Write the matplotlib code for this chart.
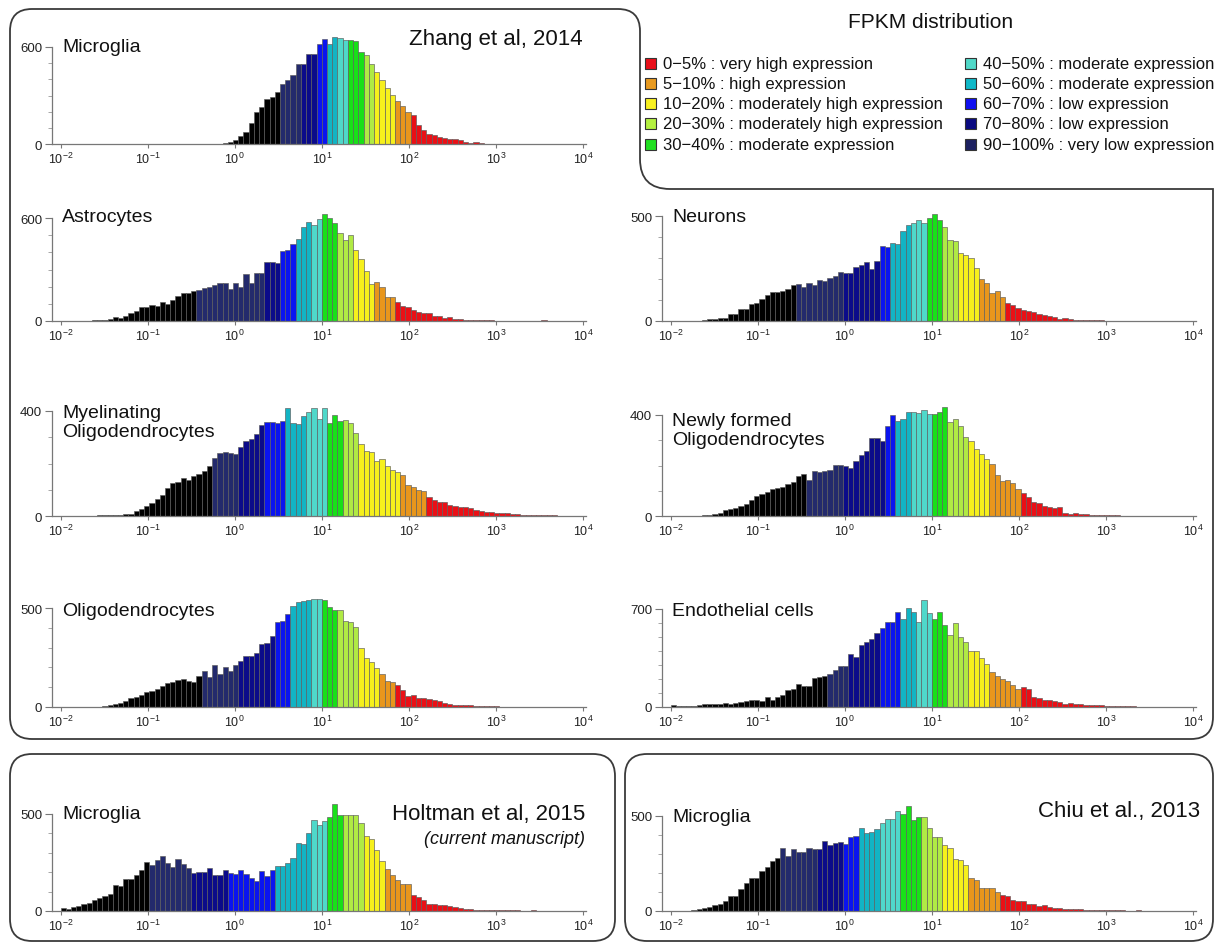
import numpy as np
import matplotlib
matplotlib.use('Agg')
import matplotlib.pyplot as plt
from matplotlib.patches import FancyBboxPatch, PathPatch, Rectangle
from matplotlib.path import Path
from matplotlib.ticker import FixedLocator, NullLocator

plt.rcParams['font.family'] = ['Liberation Sans', 'DejaVu Sans']
plt.rcParams['mathtext.fontset'] = 'custom'
plt.rcParams['mathtext.rm'] = 'Liberation Sans'
plt.rcParams['mathtext.it'] = 'Liberation Sans:italic'

W, H = 1215, 945

# 100 log-spaced FPKM bins, 1e-2 .. 1e4
bin_edges = np.logspace(-2, 4, 101)

# colour groups, low expression (left) -> high expression (right)
group_colors = ['#000000', '#232a6c', '#0b0b8a', '#0a14f0', '#12b4c4', '#4fd8ca',
                '#18e018', '#b0ea44', '#f6f01c', '#e8961c', '#ea1016']

# gene counts per bin; *_groups = first bin of each colour after black
zhang_microglia = [1, 1, 1, 1, 1, 1, 1, 1, 1, 1, 1, 1, 1, 1, 1, 1, 1, 1, 1, 1,
                   1, 1, 1, 1, 1, 1, 2, 1, 2, 2, 3, 5, 14, 25, 49, 76, 131, 199, 230, 277,
                   292, 322, 374, 394, 425, 493, 493, 558, 558, 620, 651, 620, 661, 657, 645, 645, 636, 569, 548, 497,
                   446, 394, 345, 304, 269, 238, 199, 177, 117, 86, 60, 55, 45, 35, 29, 29, 23, 14, 8, 14,
                   4, 3, 2, 2, 2, 1, 1, 1, 1, 1, 1, 1, 1, 1, 1, 1, 1, 1, 1, 1]
zhang_microglia_groups = [42, 46, 49, 51, 53, 55, 58, 60, 64, 67]

astrocytes = [1, 1, 1, 1, 2, 2, 3, 3, 5, 12, 21, 15, 27, 45, 58, 79, 83, 93, 89, 112,
              97, 122, 145, 161, 161, 174, 180, 190, 199, 209, 219, 219, 186, 219, 199, 271, 223, 281, 281, 341,
              341, 335, 406, 412, 447, 480, 548, 577, 561, 596, 625, 600, 573, 515, 470, 503, 412, 364, 290, 213,
              228, 199, 141, 141, 108, 89, 79, 64, 50, 45, 45, 27, 27, 17, 21, 12, 10, 7, 6, 5,
              4, 3, 3, 2, 2, 2, 2, 1, 1, 1, 1, 1, 3, 1, 1, 1, 1, 1, 1, 1]
astrocytes_groups = [26, 39, 42, 45, 48, 50, 53, 56, 60, 64]

neurons = [1, 1, 1, 1, 2, 2, 5, 8, 10, 12, 15, 32, 32, 58, 58, 82, 87, 105, 122, 138,
           138, 143, 154, 170, 175, 162, 181, 170, 197, 190, 206, 214, 233, 229, 229, 257, 265, 281, 248, 286,
           356, 352, 371, 365, 427, 456, 468, 479, 468, 492, 508, 479, 448, 384, 379, 325, 313, 302, 254, 202,
           181, 135, 141, 114, 87, 75, 63, 54, 46, 43, 35, 30, 22, 19, 10, 14, 8, 7, 6, 5,
           4, 3, 3, 2, 2, 2, 1, 1, 1, 1, 1, 1, 2, 1, 1, 1, 1, 1, 1, 1]
neurons_groups = [24, 33, 40, 42, 46, 49, 52, 55, 59, 64]

myelinating = [1, 1, 1, 1, 1, 1, 1, 2, 2, 3, 4, 5, 8, 8, 20, 26, 38, 51, 66, 79,
               108, 125, 129, 145, 138, 154, 160, 170, 191, 221, 239, 243, 240, 236, 262, 284, 293, 312, 347, 360,
               360, 356, 362, 410, 356, 352, 381, 398, 410, 369, 410, 356, 385, 362, 365, 356, 318, 274, 249, 243,
               211, 218, 192, 174, 167, 155, 117, 111, 98, 96, 73, 60, 54, 54, 42, 38, 35, 33, 29, 23,
               20, 16, 16, 13, 13, 10, 8, 6, 5, 5, 4, 3, 2, 2, 2, 1, 1, 1, 1, 1]
myelinating_groups = [29, 34, 39, 43, 47, 51, 54, 57, 65, 70]

newly_formed = [1, 1, 1, 1, 1, 1, 2, 4, 8, 13, 24, 27, 31, 40, 48, 64, 80, 87, 97, 107,
                111, 115, 128, 135, 160, 168, 141, 177, 173, 177, 184, 201, 201, 197, 191, 217, 240, 257, 307, 307,
                297, 357, 401, 375, 384, 413, 413, 408, 420, 404, 404, 413, 431, 372, 384, 355, 311, 297, 264, 247,
                227, 204, 164, 137, 144, 131, 107, 91, 75, 57, 53, 40, 35, 31, 35, 13, 8, 11, 8, 8,
                5, 5, 4, 4, 2, 2, 1, 1, 1, 1, 1, 1, 1, 1, 1, 1, 1, 1, 1, 1]
newly_formed_groups = [26, 33, 41, 43, 46, 50, 53, 57, 61, 67]

oligodendrocytes = [1, 1, 1, 1, 1, 1, 2, 2, 3, 8, 14, 20, 29, 43, 51, 60, 77, 80, 89, 107,
                    119, 128, 136, 142, 131, 125, 159, 183, 150, 210, 167, 200, 183, 210, 230, 256, 256, 273, 319, 324,
                    358, 427, 435, 469, 512, 529, 534, 538, 546, 546, 540, 503, 490, 492, 435, 427, 404, 299, 247, 227,
                    196, 165, 131, 128, 111, 85, 56, 63, 43, 46, 39, 34, 29, 22, 17, 12, 9, 9, 9, 5,
                    4, 3, 3, 4, 2, 2, 2, 1, 1, 1, 1, 1, 1, 1, 1, 1, 1, 1, 1, 1]
oligodendrocytes_groups = [27, 34, 41, 44, 48, 50, 53, 57, 61, 64]

endothelial = [12, 7, 7, 7, 7, 14, 19, 19, 19, 24, 31, 24, 29, 36, 41, 53, 53, 41, 72, 48,
               72, 88, 120, 131, 167, 151, 151, 208, 215, 220, 239, 263, 294, 294, 382, 359, 442, 466, 485, 526,
               567, 605, 605, 677, 629, 705, 677, 605, 765, 669, 629, 677, 586, 514, 598, 502, 466, 399, 399, 347,
               304, 251, 222, 203, 184, 155, 127, 143, 131, 72, 67, 48, 48, 43, 36, 24, 31, 24, 24, 17,
               17, 12, 12, 10, 7, 7, 5, 5, 5, 3, 3, 3, 2, 2, 2, 1, 1, 1, 1, 1]
endothelial_groups = [30, 34, 40, 44, 47, 50, 53, 57, 61, 67]

holtman_microglia = [17, 9, 21, 28, 34, 41, 55, 69, 76, 90, 133, 129, 167, 167, 184, 210, 253, 236, 262, 283,
                     248, 228, 266, 241, 224, 197, 202, 202, 224, 184, 184, 210, 197, 193, 210, 190, 172, 155, 207, 179,
                     210, 231, 231, 245, 271, 352, 345, 400, 469, 443, 466, 486, 552, 495, 495, 495, 495, 452, 386, 369,
                     317, 259, 219, 184, 160, 141, 141, 81, 72, 55, 38, 38, 33, 29, 24, 21, 17, 12, 10, 7,
                     7, 6, 5, 6, 4, 3, 3, 3, 2, 2, 3, 2, 1, 1, 1, 1, 1, 1, 1, 1]
holtman_microglia_groups = [17, 25, 32, 41, 48, 51, 54, 58, 62, 67]

chiu_microglia = [1, 1, 1, 2, 5, 9, 14, 20, 29, 38, 51, 77, 80, 114, 145, 176, 176, 208, 234, 261,
                  278, 333, 290, 324, 311, 311, 329, 324, 324, 367, 346, 358, 363, 353, 392, 396, 438, 409, 418, 432,
                  461, 483, 483, 524, 512, 551, 478, 495, 495, 435, 392, 392, 346, 329, 273, 268, 244, 176, 165, 119,
                  119, 119, 100, 85, 80, 60, 55, 51, 38, 39, 26, 29, 20, 17, 17, 12, 12, 9, 9, 7,
                  6, 5, 5, 4, 3, 4, 3, 2, 2, 3, 2, 2, 1, 1, 1, 1, 1, 1, 1, 1]
chiu_microglia_groups = [21, 28, 33, 36, 40, 44, 48, 52, 57, 63]

legend_labels = ['0\u22125% : very high expression', '5\u221210% : high expression',
                 '10\u221220% : moderately high expression', '20\u221230% : moderately high expression',
                 '30\u221240% : moderate expression', '40\u221250% : moderate expression',
                 '50\u221260% : moderate expression', '60\u221270% : low expression',
                 '70\u221280% : low expression', '90\u2212100% : very low expression']
legend_colors = ['#e8101a', '#e89a20', '#f8f020', '#b4f040', '#20e020',
                 '#50d8c8', '#10b8c8', '#1010f0', '#0a0a80', '#1c2060']


def fx(x):
    return x / W


def fy(y):
    return 1 - y / H


fig = plt.figure(figsize=(W / 100, H / 100), dpi=100)

# frames, drawn in pixel coordinates
frame = fig.add_axes([0, 0, 1, 1], zorder=-1)
frame.set_xlim(0, W)
frame.set_ylim(H, 0)
frame.axis('off')
r = 22
M, L, C = Path.MOVETO, Path.LINETO, Path.CURVE3
verts = [(10, 740 - r), (10, 10 + r), (10, 10), (10 + r, 10), (640 - r, 10), (640, 10), (640, 10 + r),
         (640, 160), (640, 190), (670, 190), (1213, 190), (1213, 740 - r), (1213, 740), (1213 - r, 740),
         (10 + r, 740), (10, 740), (10, 740 - r)]
codes = [M, L, C, C, L, C, C, L, C, C, L, L, C, C, L, C, C]
frame.add_patch(PathPatch(Path(verts, codes), fill=False, ec='#3a3a3a', lw=1.3))
for x0, x1 in [(10, 615), (625, 1213)]:
    frame.add_patch(FancyBboxPatch((x0, 755), x1 - x0, 187, boxstyle='round,pad=0,rounding_size=22',
                                   fill=False, ec='#3a3a3a', lw=1.3))

# panels: data, groups, side, baseline px, top-tick px, top tick value
panels = [
    (zhang_microglia, zhang_microglia_groups, 'L', 145, 48, 600),
    (astrocytes, astrocytes_groups, 'L', 322, 219, 600),
    (neurons, neurons_groups, 'R', 322, 217, 500),
    (myelinating, myelinating_groups, 'L', 517, 412, 400),
    (newly_formed, newly_formed_groups, 'R', 517, 416, 400),
    (oligodendrocytes, oligodendrocytes_groups, 'L', 708, 609, 500),
    (endothelial, endothelial_groups, 'R', 708, 610, 700),
    (holtman_microglia, holtman_microglia_groups, 'L', 912, 815, 500),
    (chiu_microglia, chiu_microglia_groups, 'R', 912, 817, 500),
]
decade = 87.1
x_lo, x_hi = -2.1, 4.03
for heights, groups, side, base, top_px, top_val in panels:
    x_start = 60.5 if side == 'L' else 670.5
    left = x_start + (x_lo + 2) * decade
    right = x_start + (x_hi + 2) * decade
    k = 1.3
    h_px = (base - top_px) * k
    ax = fig.add_axes([fx(left), fy(base), (right - left) / W, h_px / H])
    ax.patch.set_alpha(0)
    cols = [group_colors[np.searchsorted(groups, i, side='right')] for i in range(len(heights))]
    ax.bar(bin_edges[:-1], heights, width=np.diff(bin_edges), align='edge',
           color=cols, edgecolor='#5c5c5c', linewidth=0.45)
    ax.set_xscale('log')
    ax.set_xlim(10 ** x_lo, 10 ** x_hi)
    ax.set_ylim(0, top_val * k)
    for s in ['top', 'right']:
        ax.spines[s].set_visible(False)
    for s in ['left', 'bottom']:
        ax.spines[s].set_color('#777777')
        ax.spines[s].set_linewidth(0.9)
    ax.spines['left'].set_bounds(0, top_val)
    ax.xaxis.set_major_locator(FixedLocator(10.0 ** np.arange(-2, 5)))
    ax.xaxis.set_minor_locator(NullLocator())
    ax.yaxis.set_major_locator(FixedLocator([0, top_val]))
    ax.yaxis.set_minor_locator(FixedLocator(list(range(100, top_val, 100))))
    ax.tick_params(axis='x', which='major', length=3, width=0.8, color='#777777',
                   labelsize=9, pad=2, labelcolor='#222222')
    ax.tick_params(axis='y', which='major', length=5, width=0.8, color='#777777',
                   labelsize=9.5, pad=2, labelcolor='#222222')
    ax.tick_params(axis='y', which='minor', length=3, width=0.6, color='#999999')

# panel titles
titles = [('Microglia', 62, 48), ('Astrocytes', 62, 218), ('Neurons', 672, 218),
          ('Myelinating\nOligodendrocytes', 62, 423), ('Newly formed\nOligodendrocytes', 672, 431),
          ('Oligodendrocytes', 62, 612), ('Endothelial cells', 672, 611),
          ('Microglia', 62, 815), ('Microglia', 672, 818)]
for t, x, y in titles:
    fig.text(fx(x), fy(y), t, fontsize=14, ha='left', va='center', linespacing=1.15, color='#111111')

fig.text(fx(583), fy(40), 'Zhang et al, 2014', fontsize=16, ha='right', va='center', color='#111111')
fig.text(fx(585), fy(815), 'Holtman et al, 2015', fontsize=16, ha='right', va='center', color='#111111')
fig.text(fx(585), fy(840), '(current manuscript)', fontsize=13, style='italic', ha='right', va='center',
         color='#111111')
fig.text(fx(1200), fy(812), 'Chiu et al., 2013', fontsize=16, ha='right', va='center', color='#111111')

# legend
fig.text(fx(931), fy(22), 'FPKM distribution', fontsize=15, ha='center', va='center', color='#111111')
for i, (lab, c) in enumerate(zip(legend_labels, legend_colors)):
    col, row = divmod(i, 5)
    xs = 645 if col == 0 else 965
    yc = 64 + row * 20.3
    frame.add_patch(Rectangle((xs, yc - 5.5), 11, 11, fc=c, ec='#333333', lw=0.8))
    fig.text(fx(xs + 18), fy(yc), lab, fontsize=12, ha='left', va='center', color='#111111')

fig.savefig('out.png', dpi=100)
